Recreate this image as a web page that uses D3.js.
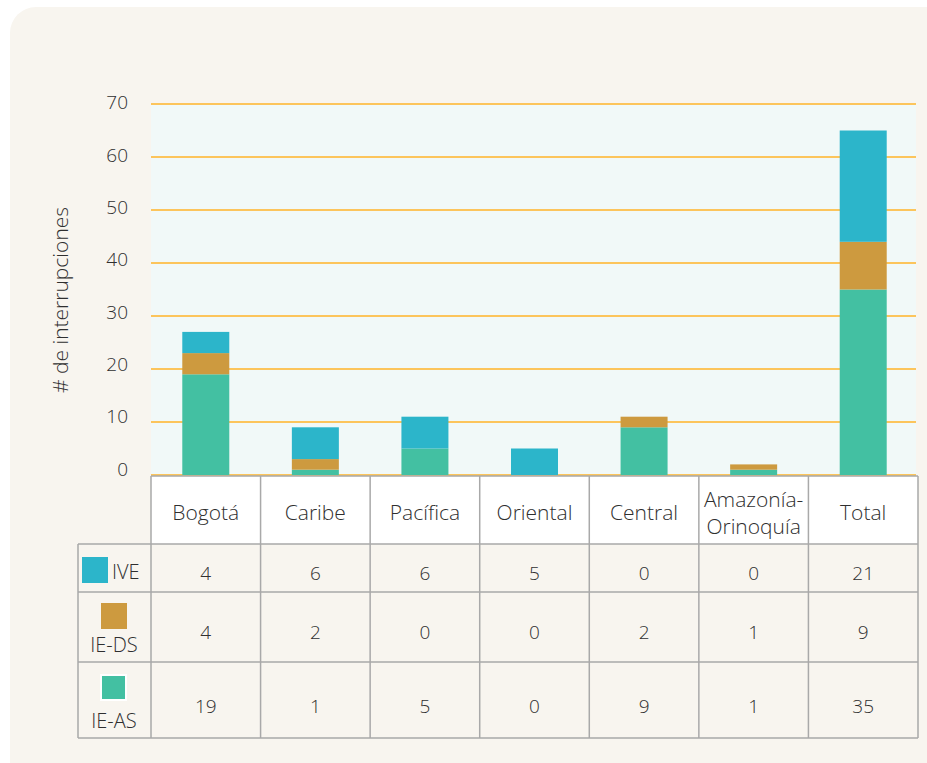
<!DOCTYPE html>
<html>
<head>
<meta charset="utf-8">
<script src="https://cdn.jsdelivr.net/npm/d3@7"></script>
<style>
  body { margin: 0; background: #fff; }
  svg text { font-family: "Open Sans", "Noto Sans", sans-serif; font-weight: 300; fill: #2f2f2f; }
</style>
</head>
<body>
<div id="graph"></div>
<script>
// data
const categories = ["Bogotá", "Caribe", "Pacífica", "Oriental", "Central", "Amazonía-\nOrinoquía", "Total"];
const seriesNames = ["IVE", "IE-DS", "IE-AS"];
const ive = [4, 6, 6, 5, 0, 0, 21];
const ieDs = [4, 2, 0, 0, 2, 1, 9];
const ieAs = [19, 1, 5, 0, 9, 1, 35];
const yTicks = [0, 10, 20, 30, 40, 50, 60, 70];
const colors = { "IVE": "#2cb5ca", "IE-DS": "#cd9a3f", "IE-AS": "#43c0a2" };

const width = 927, height = 763;
const svg = d3.select("#graph").append("svg")
    .attr("width", width)
    .attr("height", height);

// panel background
svg.append("rect")
    .attr("x", 10).attr("y", 7)
    .attr("width", width + 40).attr("height", height + 40)
    .attr("rx", 26)
    .attr("fill", "#f8f5ef");

const plotLeft = 151, plotRight = 916, plotTop = 104, zeroY = 475;

const x = d3.scaleBand()
    .domain(categories)
    .range([plotLeft, 918])
    .paddingInner(0)
    .paddingOuter(0);

const y = d3.scaleLinear()
    .domain([0, 70])
    .range([zeroY, plotTop]);

// the tick labels sit on a slightly tighter spacing than the gridlines
const yLabel = d3.scaleLinear()
    .domain([0, 70])
    .range([469, 102.5]);

svg.append("rect")
    .attr("x", plotLeft).attr("y", plotTop)
    .attr("width", plotRight - plotLeft).attr("height", zeroY - plotTop)
    .attr("fill", "#f1f9f8");

// gridlines
svg.append("g").selectAll("line")
    .data(yTicks)
    .enter().append("line")
    .attr("x1", plotLeft).attr("x2", plotRight)
    .attr("y1", d => y(d)).attr("y2", d => y(d))
    .attr("stroke", "#fcc55c")
    .attr("stroke-width", 2);

svg.append("g").selectAll("text")
    .data(yTicks)
    .enter().append("text")
    .attr("x", 128)
    .attr("y", d => yLabel(d))
    .attr("dy", "0.36em")
    .attr("text-anchor", "end")
    .attr("font-size", 19)
    .text(d => d);

svg.append("text")
    .attr("transform", "translate(68,300) rotate(-90)")
    .attr("text-anchor", "middle")
    .attr("font-size", 21)
    .text("# de interrupciones");

// stacked bars
const rows = categories.map((c, i) => ({ cat: c, "IE-AS": ieAs[i], "IE-DS": ieDs[i], "IVE": ive[i] }));
const stack = d3.stack().keys(["IE-AS", "IE-DS", "IVE"])(rows);
const barW = 47;

svg.append("g").selectAll("g")
    .data(stack)
    .enter().append("g")
    .attr("fill", d => colors[d.key])
    .selectAll("rect")
    .data(d => d)
    .enter().append("rect")
    .attr("x", d => x(d.data.cat) + (x.bandwidth() - barW) / 2)
    .attr("width", barW)
    .attr("y", d => y(d[1]))
    .attr("height", d => y(d[0]) - y(d[1]));

// table
const gridColor = "#a9a9a9";
const headTop = 476, headBottom = 544;
const rowEdges = [544, 592, 662, 738];
const rowBaselines = [580, 639, 713];
const tableLeft = 78;
const tableRight = x.range()[1];

const table = svg.append("g");

table.append("rect")
    .attr("x", plotLeft).attr("y", headTop)
    .attr("width", tableRight - plotLeft).attr("height", headBottom - headTop)
    .attr("fill", "#fff");

categories.forEach(c => {
    const lines = c.split("\n");
    const t = table.append("text")
        .attr("x", x(c) + x.bandwidth() / 2)
        .attr("text-anchor", "middle")
        .attr("font-size", 21);
    lines.forEach((l, i) => {
        t.append("tspan")
            .attr("x", x(c) + x.bandwidth() / 2)
            .attr("y", lines.length === 1 ? 520 : 507 + i * 27)
            .text(l);
    });
});

const seriesValues = [ive, ieDs, ieAs];
seriesValues.forEach((vals, r) => {
    table.append("g").selectAll("text")
        .data(vals)
        .enter().append("text")
        .attr("x", (d, i) => x(categories[i]) + x.bandwidth() / 2)
        .attr("y", rowBaselines[r])
        .attr("text-anchor", "middle")
        .attr("font-size", 19)
        .text(d => d);
});

// legend cells
table.append("rect").attr("x", 82).attr("y", 557).attr("width", 26).attr("height", 26).attr("fill", colors["IVE"]);
table.append("text").attr("x", 112).attr("y", 579).attr("font-size", 20).text(seriesNames[0]);

table.append("rect").attr("x", 101).attr("y", 603).attr("width", 26).attr("height", 26).attr("fill", colors["IE-DS"]);
table.append("text").attr("x", 114).attr("y", 652).attr("text-anchor", "middle").attr("font-size", 20).text(seriesNames[1]);

table.append("rect").attr("x", 101).attr("y", 675).attr("width", 25).attr("height", 25)
    .attr("fill", colors["IE-AS"]).attr("stroke", "#fff").attr("stroke-width", 2);
table.append("text").attr("x", 114).attr("y", 728).attr("text-anchor", "middle").attr("font-size", 20).text(seriesNames[2]);

// grid lines of the table
const vLines = x.domain().map(c => x(c)).concat([tableRight]);
table.selectAll(".v").data(vLines).enter().append("line")
    .attr("x1", d => d).attr("x2", d => d)
    .attr("y1", headTop).attr("y2", rowEdges[3])
    .attr("stroke", gridColor).attr("stroke-width", 1.5);

table.append("line")
    .attr("x1", tableLeft).attr("x2", tableLeft)
    .attr("y1", rowEdges[0]).attr("y2", rowEdges[3])
    .attr("stroke", gridColor).attr("stroke-width", 1.5);

table.selectAll(".h").data(rowEdges).enter().append("line")
    .attr("x1", tableLeft).attr("x2", tableRight)
    .attr("y1", d => d).attr("y2", d => d)
    .attr("stroke", gridColor).attr("stroke-width", 1.5);

table.append("line")
    .attr("x1", plotLeft).attr("x2", tableRight)
    .attr("y1", headTop).attr("y2", headTop)
    .attr("stroke", gridColor).attr("stroke-width", 1.5);
</script>
</body>
</html>
